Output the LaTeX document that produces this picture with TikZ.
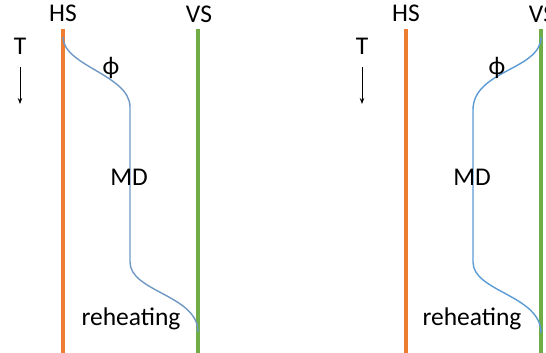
\documentclass[tikz,border=0pt]{standalone}
\usepackage{fontspec}
\setmainfont{Carlito}
\usetikzlibrary{arrows.meta}
\definecolor{hsorange}{HTML}{ED7D31}
\definecolor{vsgreen}{HTML}{70AD47}
\definecolor{curveblue}{HTML}{5B9BD5}
\definecolor{curvegrey}{HTML}{6F98C4}
\begin{document}
\begin{tikzpicture}[x=1pt,y=-1pt,
  lbl/.style={inner sep=0pt, font=\fontsize{25.5}{30}\selectfont, anchor=base},
  hsline/.style={draw=hsorange, line width=3.2pt},
  vsline/.style={draw=vsgreen, line width=3.2pt},
  tarrow/.style={draw=black, line width=0.9pt, -{Stealth[length=6pt,width=4.5pt]}},
  phase/.style={line width=1.4pt}]
\useasboundingbox (0,0) rectangle (546,353);
% ---------- left panel ----------
\coordinate (hsLt) at (63,29);  \coordinate (hsLb) at (63,353);
\coordinate (vsLt) at (198,29); \coordinate (vsLb) at (198,353);
\draw[hsline] (hsLt) -- (hsLb);
\draw[vsline] (vsLt) -- (vsLb);
\node[lbl] (hsL) at (63,22) {HS};
\node[lbl] (vsL) at (199,23) {VS};
\node[lbl] (tL) at (20,55) {T};
\coordinate (taL) at (20,67); \coordinate (tbL) at (20,104);
\draw[tarrow] (taL) -- (tbL);
\coordinate (cL0) at (63,37); \coordinate (cL1) at (130,107);
\coordinate (cL2) at (130,262); \coordinate (cL3) at (198,332);
\draw[phase, curvegrey] (cL0) .. controls (63,66) and (130,75) .. (cL1)
  -- (cL2) .. controls (130,292) and (198,295) .. (cL3);
\node[lbl, anchor=center] (phiL) at (111,68) {ϕ};
\node[lbl] (mdL) at (129,185) {MD};
\node[lbl] (reL) at (131,325) {reheating};
% ---------- right panel ----------
\coordinate (hsRt) at (406,29); \coordinate (hsRb) at (406,353);
\coordinate (vsRt) at (541,29); \coordinate (vsRb) at (541,353);
\draw[hsline] (hsRt) -- (hsRb);
\draw[vsline] (vsRt) -- (vsRb);
\node[lbl] (hsR) at (406,22) {HS};
\node[lbl] (vsR) at (542,23) {VS};
\node[lbl] (tR) at (362,55) {T};
\coordinate (taR) at (362,67); \coordinate (tbR) at (362,104);
\draw[tarrow] (taR) -- (tbR);
\coordinate (cR0) at (541,37); \coordinate (cR1) at (473,110);
\coordinate (cR2) at (473,262); \coordinate (cR3) at (541,333);
\draw[phase, curveblue] (cR0) .. controls (541,70) and (473,70) .. (cR1)
  -- (cR2) .. controls (473,292) and (541,295) .. (cR3);
\node[lbl, anchor=center] (phiR) at (497,68) {ϕ};
\node[lbl] (mdR) at (472,185) {MD};
\node[lbl] (reR) at (472,325) {reheating};
\end{tikzpicture}
\end{document}
